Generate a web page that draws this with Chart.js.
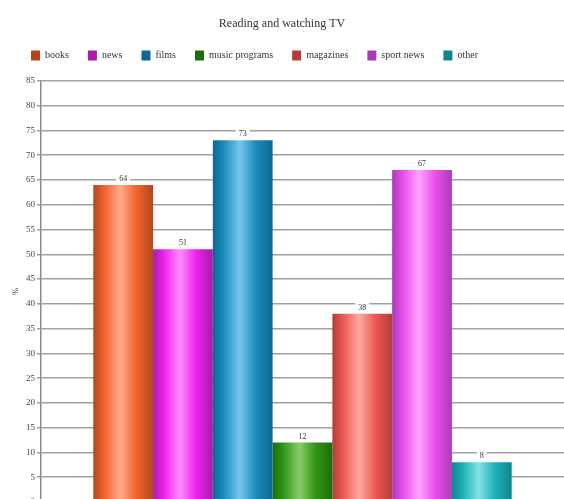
<!DOCTYPE html>
<html lang="en">
<head>
    <meta charset="UTF-8">
    <title>Reading and watching TV</title>
    <style>
        html, body {
            margin: 0;
            padding: 0;
            overflow: hidden;
            background: #fff;
        }
        #wrap {
            width: 564px;
            height: 520px;
        }
    </style>
    <script src="https://cdn.jsdelivr.net/npm/chart.js@4.4.1/dist/chart.umd.min.js"></script>
</head>
<body>
<div id="wrap">
    <canvas id="chart"></canvas>
</div>
<script>
    var categories = ['books', 'news', 'films', 'music programs', 'magazines', 'sport news', 'other'];
    var values = [64, 51, 73, 12, 38, 67, 8];
    // edge, base, highlight
    var shades = [
        ['#b4461c', '#f0632e', '#ffab8a'],
        ['#a81ca8', '#ec22ec', '#ff8cff'],
        ['#0b6890', '#1a8bbd', '#74c9ea'],
        ['#1f6c0e', '#2f9616', '#8ccc68'],
        ['#b43c3a', '#ec5853', '#ffaaa2'],
        ['#a83cb8', '#ea4eec', '#ffa4ff'],
        ['#0e868e', '#1eafb8', '#84e2e4']
    ];

    var serif = '"Liberation Serif", "DejaVu Serif", serif';

    function barGradient(ctx, i) {
        var chart = ctx.chart;
        var area = chart.chartArea;
        var base = shades[i][1];
        if (!area || !chart.scales.x) return base;
        var xs = chart.scales.x;
        var catW = xs.width;
        var barW = catW * 0.8 / categories.length;
        var left = xs.getPixelForValue(0) - catW * 0.4 + i * barW;
        var g = chart.ctx.createLinearGradient(left, 0, left + barW, 0);
        g.addColorStop(0, shades[i][0]);
        g.addColorStop(0.18, base);
        g.addColorStop(0.45, shades[i][2]);
        g.addColorStop(0.72, base);
        g.addColorStop(1, shades[i][0]);
        return g;
    }

    var datasets = categories.map(function (name, i) {
        return {
            label: name,
            data: [values[i]],
            backgroundColor: function (ctx) { return barGradient(ctx, i); },
            borderWidth: 0,
            categoryPercentage: 0.8,
            barPercentage: 1.0
        };
    });

    var valueLabels = {
        id: 'valueLabels',
        afterDatasetsDraw: function (chart) {
            var ctx = chart.ctx;
            ctx.save();
            ctx.font = '8px ' + serif;
            ctx.textAlign = 'center';
            ctx.textBaseline = 'bottom';
            chart.data.datasets.forEach(function (ds, i) {
                var bar = chart.getDatasetMeta(i).data[0];
                var txt = String(ds.data[0]);
                var w = ctx.measureText(txt).width + 6;
                ctx.fillStyle = '#fff';
                ctx.fillRect(bar.x - w / 2, bar.y - 11, w, 10);
                ctx.fillStyle = '#333';
                ctx.fillText(txt, bar.x, bar.y - 2);
            });
            ctx.restore();
        }
    };

    // extra room under the legend, and nudge it a little to the right
    var legendTweak = {
        id: 'legendTweak',
        beforeInit: function (chart) {
            var lg = chart.legend;
            var fit = lg.fit;
            var draw = lg.draw;
            lg.fit = function () {
                fit.call(this);
                this.height += 10.5;
            };
            lg.draw = function () {
                var c = this.ctx;
                c.save();
                c.translate(12, 0);
                draw.call(this);
                c.restore();
            };
        }
    };

    new Chart(document.getElementById('chart'), {
        type: 'bar',
        data: { labels: [''], datasets: datasets },
        plugins: [valueLabels, legendTweak],
        options: {
            responsive: true,
            maintainAspectRatio: false,
            animation: false,
            layout: { padding: { left: 0, right: 0, top: 0, bottom: 18 } },
            plugins: {
                title: {
                    display: true,
                    text: 'Reading and watching TV',
                    color: '#333',
                    font: { family: serif, size: 12, weight: 'normal' },
                    padding: { top: 17, bottom: 0 }
                },
                legend: {
                    align: 'start',
                    labels: {
                        boxWidth: 9,
                        boxHeight: 10,
                        padding: 19,
                        color: '#333',
                        font: { family: serif, size: 10 }
                    }
                },
                tooltip: { enabled: false }
            },
            scales: {
                x: { display: false },
                y: {
                    min: 0,
                    max: 85,
                    ticks: {
                        stepSize: 5,
                        color: '#444',
                        padding: 2,
                        font: { family: serif, size: 9 }
                    },
                    grid: {
                        color: '#a0a0a0',
                        lineWidth: 1.5,
                        tickLength: 4
                    },
                    border: { color: '#8a8a8a', width: 1.5 },
                    title: {
                        display: true,
                        text: '%',
                        color: '#444',
                        padding: { top: 10, bottom: 4 },
                        font: { family: serif, size: 9 }
                    },
                    afterFit: function (scale) { scale.width = 41; }
                }
            }
        }
    });
</script>
</body>
</html>
